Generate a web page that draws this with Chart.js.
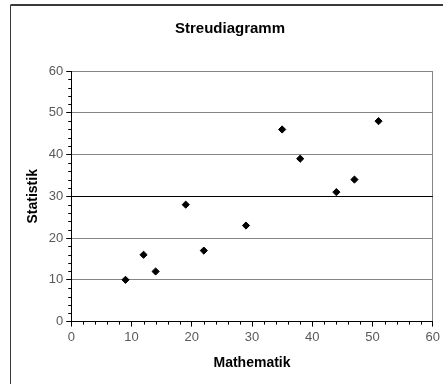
<!DOCTYPE html>
<html>
<head>
<meta charset="utf-8">
<script src="https://cdn.jsdelivr.net/npm/chart.js@4/dist/chart.umd.min.js"></script>
<style>
  html, body { margin: 0; padding: 0; background: #fff; }
  #c { display: block; }
</style>
</head>
<body>
<canvas id="c" width="443" height="384"></canvas>
<script>
// Scores per student: Mathematik (x) vs. Statistik (y)
const mathematik = [9, 12, 14, 19, 22, 29, 35, 38, 44, 47, 51];
const statistik  = [10, 16, 12, 28, 17, 23, 46, 39, 31, 34, 48];
const axisTicks  = [0, 10, 20, 30, 40, 50, 60];

const FONT = '"Liberation Sans", Arial, sans-serif';
const GRID = '#858585';

// Short minor tick marks every 2 units, placed through each scale
const minorTicks = {
  id: 'minorTicks',
  afterDatasetsDraw(chart) {
    const ctx = chart.ctx;
    const xs = chart.scales.x, ys = chart.scales.y;
    ctx.save();
    ctx.strokeStyle = '#000';
    ctx.lineWidth = 1;
    for (let v = xs.min; v <= xs.max; v += 2) {
      if (v % 10 === 0) continue;
      const px = Math.round(xs.getPixelForValue(v)) + 0.5;
      ctx.beginPath();
      ctx.moveTo(px, ys.bottom);
      ctx.lineTo(px, ys.bottom + 3);
      ctx.stroke();
    }
    for (let v = ys.min; v <= ys.max; v += 2) {
      if (v % 10 === 0) continue;
      const py = Math.round(ys.getPixelForValue(v)) + 0.5;
      ctx.beginPath();
      ctx.moveTo(xs.left - 3, py);
      ctx.lineTo(xs.left, py);
      ctx.stroke();
    }
    ctx.restore();
  }
};

// Frame of the chart object along its top and left edge
const frame = {
  id: 'frame',
  afterDraw(chart) {
    const ctx = chart.ctx;
    ctx.save();
    ctx.strokeStyle = '#3a3a3a';
    ctx.lineWidth = 2;
    ctx.beginPath();
    ctx.moveTo(chart.width, 5);
    ctx.lineTo(10.5, 5);
    ctx.stroke();
    ctx.lineWidth = 1;
    ctx.beginPath();
    ctx.moveTo(10.5, 5);
    ctx.lineTo(10.5, chart.height);
    ctx.stroke();
    ctx.restore();
  }
};

new Chart(document.getElementById('c'), {
  type: 'scatter',
  data: {
    datasets: [{
      label: 'Statistik',
      data: mathematik.map((x, i) => ({ x, y: statistik[i] })),
      pointStyle: 'rectRot',
      pointRadius: 3.6,
      pointHoverRadius: 3.6,
      backgroundColor: '#000',
      borderColor: '#000',
      borderWidth: 1
    }]
  },
  options: {
    responsive: false,
    animation: false,
    events: [],
    layout: { padding: { left: 21, right: 4, top: 0, bottom: 12 } },
    plugins: {
      legend: { display: false },
      tooltip: { enabled: false },
      title: {
        display: true,
        text: 'Streudiagramm',
        color: '#000',
        font: { family: FONT, size: 15, weight: 'bold' },
        padding: { top: 20, bottom: 33 }
      }
    },
    scales: {
      x: {
        type: 'linear',
        min: axisTicks[0],
        max: axisTicks[axisTicks.length - 1],
        afterBuildTicks: s => { s.ticks = axisTicks.map(v => ({ value: v })); },
        border: { color: '#000', width: 1 },
        grid: {
          color: c => (c.tick && c.tick.value === 60) ? GRID : 'rgba(0,0,0,0)',
          tickColor: '#000',
          tickLength: 5,
          lineWidth: 1
        },
        ticks: {
          color: '#595959',
          font: { family: FONT, size: 13 },
          padding: 3,
          maxRotation: 0,
          autoSkip: false
        },
        title: {
          display: true,
          text: 'Mathematik',
          color: '#000',
          font: { family: FONT, size: 14, weight: 'bold' },
          padding: { top: 7, bottom: 0 }
        }
      },
      y: {
        type: 'linear',
        min: axisTicks[0],
        max: axisTicks[axisTicks.length - 1],
        afterBuildTicks: s => { s.ticks = axisTicks.map(v => ({ value: v })); },
        border: { color: '#000', width: 1 },
        grid: {
          color: c => {
            const v = c.tick ? c.tick.value : null;
            if (v === 0) return 'rgba(0,0,0,0)';
            if (v === 30) return '#000';
            return GRID;
          },
          tickColor: '#000',
          tickLength: 5,
          lineWidth: 1
        },
        ticks: {
          color: '#595959',
          font: { family: FONT, size: 13 },
          padding: 3,
          autoSkip: false
        },
        title: {
          display: true,
          text: 'Statistik',
          color: '#000',
          font: { family: FONT, size: 14, weight: 'bold' },
          padding: { top: 4, bottom: 4 }
        }
      }
    }
  },
  plugins: [minorTicks, frame]
});
</script>
</body>
</html>
